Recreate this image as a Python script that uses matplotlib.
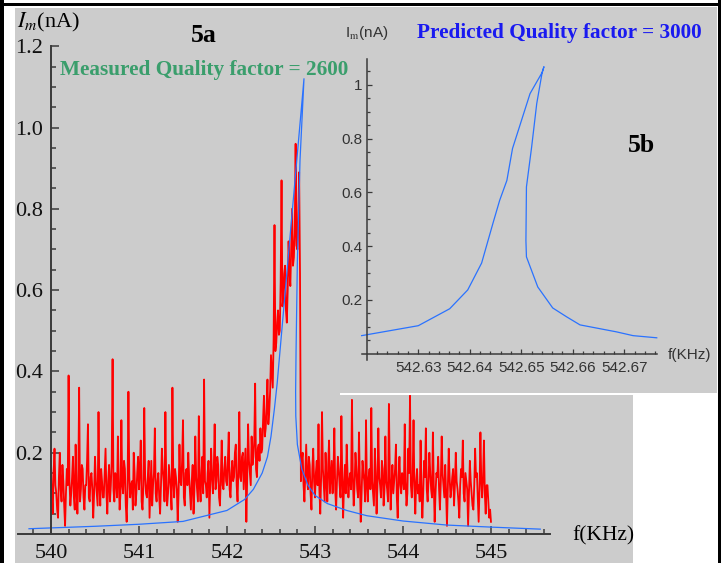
import numpy as np
import matplotlib
matplotlib.use('Agg')
import matplotlib.pyplot as plt
from matplotlib.patches import Rectangle
from matplotlib.ticker import FixedLocator

plt.rcParams['mathtext.fontset'] = 'stix'

# 5a: measured current (nA), one reading every 0.01 kHz from 540 to 545 kHz
meas_I = [
    0.18, 0.09, 0.05, 0.15, 0.21, 0.12, 0.10, 0.06, 0.04, 0.14,
    0.20, 0.11, 0.08, 0.17, 0.13, 0.07, 0.02, 0.10, 0.16, 0.12,
    0.39, 0.13, 0.07, 0.10, 0.14, 0.19, 0.09, 0.06, 0.22, 0.11,
    0.05, 0.13, 0.36, 0.08, 0.11, 0.17, 0.16, 0.09, 0.06, 0.12,
    0.12, 0.18, 0.27, 0.09, 0.08, 0.14, 0.15, 0.11, 0.04, 0.10,
    0.19, 0.13, 0.10, 0.07, 0.30, 0.12, 0.07, 0.16, 0.13, 0.09,
    0.09, 0.15, 0.21, 0.10, 0.05, 0.13, 0.17, 0.08, 0.12, 0.18,
    0.43, 0.11, 0.08, 0.15, 0.14, 0.09, 0.24, 0.13, 0.06, 0.10,
    0.28, 0.12, 0.10, 0.18, 0.16, 0.07, 0.03, 0.11, 0.35, 0.14,
    0.09, 0.12, 0.13, 0.06, 0.20, 0.15, 0.07, 0.10, 0.15, 0.19,
    0.11, 0.16, 0.23, 0.08, 0.06, 0.12, 0.31, 0.14, 0.10, 0.09,
    0.14, 0.18, 0.04, 0.11, 0.18, 0.07, 0.12, 0.15, 0.26, 0.10,
    0.08, 0.13, 0.15, 0.09, 0.05, 0.12, 0.21, 0.16, 0.13, 0.08,
    0.30, 0.12, 0.07, 0.10, 0.17, 0.14, 0.11, 0.06, 0.36, 0.13,
    0.09, 0.16, 0.14, 0.11, 0.03, 0.10, 0.22, 0.13, 0.12, 0.18,
    0.28, 0.09, 0.07, 0.15, 0.16, 0.12, 0.20, 0.14, 0.10, 0.06,
    0.13, 0.17, 0.05, 0.11, 0.24, 0.14, 0.11, 0.08, 0.29, 0.12,
    0.08, 0.15, 0.19, 0.10, 0.38, 0.13, 0.12, 0.09, 0.15, 0.18,
    0.04, 0.12, 0.21, 0.14, 0.10, 0.16, 0.27, 0.11, 0.13, 0.19,
    0.17, 0.09, 0.07, 0.14, 0.23, 0.12, 0.11, 0.16, 0.19, 0.13,
    0.12, 0.18, 0.25, 0.11, 0.09, 0.15, 0.18, 0.13, 0.14, 0.20,
    0.22, 0.12, 0.08, 0.16, 0.30, 0.14, 0.13, 0.19, 0.20, 0.11,
    0.16, 0.21, 0.03, 0.14, 0.27, 0.18, 0.15, 0.12, 0.24, 0.17,
    0.19, 0.23, 0.37, 0.16, 0.14, 0.21, 0.22, 0.18, 0.26, 0.20,
    0.21, 0.28, 0.34, 0.24, 0.26, 0.31, 0.38, 0.27, 0.30, 0.35,
    0.44, 0.40, 0.36, 0.48, 0.76, 0.45, 0.47, 0.52, 0.55, 0.49,
    0.50, 0.62, 0.87, 0.56, 0.58, 0.64, 0.66, 0.55, 0.52, 0.60,
    0.72, 0.65, 0.61, 0.70, 0.80, 0.66, 0.68, 0.74, 0.96, 0.71,
    0.70, 0.78, 0.89, 0.64, 0.13, 0.18, 0.20, 0.12, 0.08, 0.15,
    0.22, 0.14, 0.11, 0.19, 0.17, 0.10, 0.06, 0.16, 0.21, 0.13,
    0.09, 0.15, 0.18, 0.12, 0.27, 0.11, 0.05, 0.14, 0.30, 0.16,
    0.12, 0.08, 0.20, 0.13, 0.08, 0.17, 0.23, 0.10, 0.14, 0.18,
    0.10, 0.15, 0.26, 0.11, 0.06, 0.13, 0.19, 0.16, 0.12, 0.09,
    0.29, 0.14, 0.04, 0.12, 0.17, 0.10, 0.22, 0.15, 0.09, 0.13,
    0.15, 0.11, 0.33, 0.14, 0.07, 0.12, 0.20, 0.16, 0.11, 0.09,
    0.25, 0.13, 0.03, 0.10, 0.18, 0.15, 0.13, 0.08, 0.28, 0.12,
    0.08, 0.14, 0.16, 0.11, 0.31, 0.13, 0.10, 0.07, 0.21, 0.15,
    0.05, 0.12, 0.26, 0.14, 0.12, 0.09, 0.18, 0.16, 0.07, 0.11,
    0.24, 0.13, 0.11, 0.08, 0.32, 0.15, 0.06, 0.12, 0.17, 0.10,
    0.13, 0.16, 0.22, 0.09, 0.04, 0.14, 0.19, 0.12, 0.10, 0.15,
    0.14, 0.11, 0.27, 0.13, 0.07, 0.10, 0.21, 0.15, 0.34, 0.12,
    0.09, 0.14, 0.28, 0.11, 0.05, 0.13, 0.16, 0.10, 0.12, 0.08,
    0.23, 0.12, 0.04, 0.10, 0.18, 0.14, 0.26, 0.11, 0.08, 0.13,
    0.20, 0.15, 0.11, 0.09, 0.25, 0.12, 0.03, 0.10, 0.15, 0.14,
    0.19, 0.11, 0.06, 0.13, 0.24, 0.15, 0.12, 0.09, 0.17, 0.10,
    0.02, 0.12, 0.21, 0.14, 0.09, 0.11, 0.14, 0.16, 0.07, 0.12,
    0.20, 0.13, 0.11, 0.08, 0.04, 0.12, 0.16, 0.14, 0.23, 0.10,
    0.08, 0.15, 0.13, 0.11, 0.02, 0.10, 0.18, 0.13, 0.10, 0.07,
    0.06, 0.12, 0.21, 0.14, 0.15, 0.09, 0.03, 0.11, 0.25, 0.13,
    0.09, 0.14, 0.23, 0.10, 0.05, 0.12, 0.12, 0.08, 0.04, 0.06,
    0.03,
]
meas_f = np.linspace(540.0, 545.0, len(meas_I))

# 5a: fitted response curve (folds back near the peak)
fit_f = [539.75, 540.0, 540.5, 541.0, 541.5, 542.0, 542.2, 542.3, 542.4, 542.46,
         542.5, 542.54, 542.57, 542.72, 542.875, 542.83, 542.80, 542.785, 542.78,
         542.782, 542.80, 542.85, 542.92, 543.0, 543.14, 543.36, 543.59, 544.0,
         544.5, 545.0, 545.56]
fit_I = [0.013, 0.015, 0.019, 0.024, 0.031, 0.058, 0.085, 0.11, 0.15, 0.19,
         0.24, 0.31, 0.37, 0.74, 1.12, 0.92, 0.674, 0.45, 0.35,
         0.29, 0.22, 0.16, 0.12, 0.095, 0.075, 0.058, 0.045, 0.032,
         0.022, 0.017, 0.012]

# 5b: predicted response
pred_f = [542.619, 542.63, 542.6361, 542.6396, 542.6423, 542.6445, 542.6458,
          542.6472, 542.6483, 542.6517, 542.654, 542.6544, 542.654, 542.653,
          542.652, 542.651, 542.6509, 542.6510, 542.6532, 542.6561, 542.6588,
          542.6614, 542.6685, 542.6717, 542.6763]
pred_I = [0.067, 0.104, 0.167, 0.237, 0.337, 0.485, 0.57,
          0.644, 0.763, 0.967, 1.044, 1.067, 1.04, 0.93,
          0.767, 0.62, 0.42, 0.36, 0.248, 0.17, 0.137,
          0.107, 0.081, 0.067, 0.059]

a_xticks = [540, 541, 542, 543, 544, 545]
a_yticks = [0.2, 0.4, 0.6, 0.8, 1.0, 1.2]
a_ylabels = ['0.2', '0.4', '0.6', '0.8', '1.0', '1.2']
b_xticks = [542.63, 542.64, 542.65, 542.66, 542.67]
b_xlabels = ['542.63', '542.64', '542.65', '542.66', '542.67']
b_yticks = [0.2, 0.4, 0.6, 0.8, 1.0]
b_ylabels = ['0.2', '0.4', '0.6', '0.8', '1']

W, H = 728, 563
grey = '#cccccc'
axis_col = '#3a3a3a'
small_font, small_size = 'Liberation Sans', 11


def fx(px):
    return px / W


def fy(py):
    return 1 - py / H


fig = plt.figure(figsize=(W / 100, H / 100), dpi=100, facecolor='white')

# main panel
ax = fig.add_axes([fx(15), 0, fx(633) - fx(15), fy(8)])
ax.set_facecolor(grey)
ax.set_xlim(539.591, 546.614)
ax.set_ylim(-0.0713, 1.294)
ax.plot(meas_f, meas_I, color='#ff0000', lw=1.3, zorder=2)
ax.plot(fit_f, fit_I, color='#2a72ff', lw=0.9, zorder=3)

for s in ['top', 'right']:
    ax.spines[s].set_visible(False)
ax.spines['left'].set_position(('data', 540))
ax.spines['bottom'].set_position(('data', 0))
ax.spines['left'].set_bounds(0, 1.2)
ax.spines['bottom'].set_bounds(539.625, 545.67)
for s in ['left', 'bottom']:
    ax.spines[s].set_color(axis_col)
    ax.spines[s].set_linewidth(1.4)
    ax.spines[s].set_zorder(4)

ax.xaxis.set_major_locator(FixedLocator(a_xticks))
ax.xaxis.set_minor_locator(FixedLocator(np.arange(539.8, 545.61, 0.2)))
ax.yaxis.set_major_locator(FixedLocator(a_yticks))
ax.yaxis.set_minor_locator(FixedLocator(np.arange(0.05, 1.16, 0.05)))
ax.set_xticklabels([str(t) for t in a_xticks])
ax.set_yticklabels(a_ylabels)
ax.tick_params(which='both', direction='in', color=axis_col, width=1.1)
ax.tick_params(which='major', length=6)
ax.tick_params(which='minor', length=3.5)
ax.tick_params(axis='x', which='major', pad=7, labelsize=16)
ax.tick_params(axis='y', which='major', pad=6, labelsize=16)
for lab in ax.get_xticklabels() + ax.get_yticklabels():
    lab.set_family('Liberation Serif')
    lab.set_color('#111111')

# white strip under the inset
fig.add_artist(Rectangle((fx(340), fy(395)), fx(717) - fx(340), fy(392.5) - fy(395),
                         transform=fig.transFigure, facecolor='white',
                         edgecolor='none', zorder=0.5))

# inset panel
ax2 = fig.add_axes([fx(340), fy(392.5), fx(717) - fx(340), fy(7) - fy(392.5)])
ax2.set_zorder(1)
ax2.set_facecolor(grey)
ax2.set_xlim(542.6148, 542.688)
ax2.set_ylim(-0.1444, 1.289)
ax2.plot(pred_f, pred_I, color='#2a72ff', lw=0.9)
for s in ['top', 'right']:
    ax2.spines[s].set_visible(False)
ax2.spines['left'].set_position(('data', 542.62))
ax2.spines['bottom'].set_position(('data', 0))
ax2.spines['left'].set_bounds(-0.022, 1.096)
ax2.spines['bottom'].set_bounds(542.619, 542.6763)
for s in ['left', 'bottom']:
    ax2.spines[s].set_color(axis_col)
    ax2.spines[s].set_linewidth(1.1)
ax2.xaxis.set_major_locator(FixedLocator(b_xticks))
ax2.xaxis.set_minor_locator(FixedLocator(np.arange(542.622, 542.6761, 0.002)))
ax2.yaxis.set_major_locator(FixedLocator(b_yticks))
ax2.yaxis.set_minor_locator(FixedLocator(np.arange(0.05, 1.06, 0.05)))
ax2.set_xticklabels(b_xlabels)
ax2.set_yticklabels(b_ylabels)
ax2.tick_params(which='both', direction='in', color=axis_col, width=0.9,
                labelsize=small_size, labelcolor='#333333')
ax2.tick_params(which='major', length=3.5)
ax2.tick_params(which='minor', length=2.5)
ax2.tick_params(axis='x', which='major', pad=5)
ax2.tick_params(axis='y', which='major', pad=3)
for lab in ax2.get_xticklabels() + ax2.get_yticklabels():
    lab.set_family(small_font)

# texts
serif = 'Liberation Serif'
fig.text(fx(17), fy(22), r'$I_m$(nA)', family=serif, fontsize=16, va='center', ha='left')
fig.text(fx(204), fy(36), '5a', family=serif, fontsize=18.5, weight='bold', va='center', ha='center')
fig.text(fx(60), fy(70), 'Measured Quality factor = 2600', family=serif, fontsize=15.3,
         weight='bold', color='#3a9e6c', va='center', ha='left')
fig.text(fx(417), fy(33), 'Predicted Quality factor = 3000', family=serif, fontsize=15.3,
         weight='bold', color='#1a1af0', va='center', ha='left')
fig.text(fx(641), fy(145), '5b', family=serif, fontsize=18.5, weight='bold', va='center', ha='center')
fig.text(fx(572), fy(536), 'f(KHz)', family=serif, fontsize=15.5, va='center', ha='left')
fig.text(fx(345), fy(33), r'I$_{\rm m}$(nA)', family=small_font, fontsize=small_size,
         color='#333333', va='center', ha='left')
fig.text(fx(668), fy(355), 'f(KHz)', family=small_font, fontsize=small_size,
         color='#333333', va='center', ha='left')

# black frame
for rect in [(0, 0, 4, H), (0, 3, 721, 3), (717.5, 0, 3.5, H)]:
    x0, y0, w, h = rect
    fig.add_artist(Rectangle((fx(x0), fy(y0 + h)), w / W, h / H, transform=fig.transFigure,
                             facecolor='black', edgecolor='none', zorder=5))

fig.savefig('out.png', dpi=100, facecolor='white')
